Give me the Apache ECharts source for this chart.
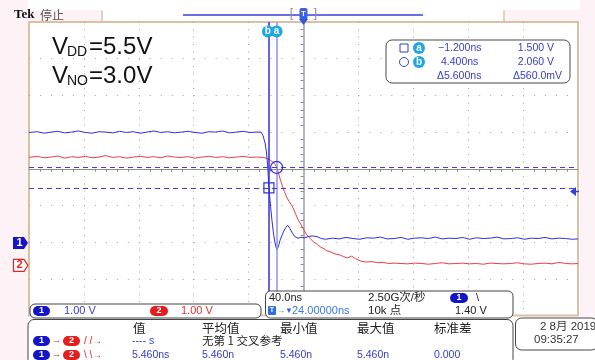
<!DOCTYPE html>
<html><head><meta charset="utf-8">
<script src="https://cdn.jsdelivr.net/npm/echarts/dist/echarts.min.js"></script>
<style>html,body{margin:0;padding:0;background:#fff}#c{width:595px;height:360px}</style>
</head><body><div id="c"></div>
<script>
// ---- scope settings ----
const timePerDiv = 40;     // ns / div
const horizPos = 24;       // ns at screen centre
const ch1Scale = 1.0, ch2Scale = 1.0;   // V / div
const ch1Offset = 2.02, ch2Offset = 2.63; // ground marker, div below centre
const trigLevel = 1.40;    // V (ch1)

// ---- waveform samples (ns, V) ----
const blueT = [-176,-170,-165,-160,-155,-150,-145,-140,-135,-130,-125,-120,-115,-110,-105,-100,-95,-90,-85,-80,-75,-70,-65,-60,-55,-50,-45,-40,-35,-30,-25,-20,-15,-10,
  -7,-5.5,-4,-3,-2,-1.2,0,1,2,3,4,4.8,5.8,7,9,11,12.5,14,16,18,20,22,25,28,31,34,37,40,
  45,50,55,60,65,70,75,80,85,90,95,100,105,110,115,120,125,130,135,140,145,150,155,160,165,170,175,180,185,190,195,200,205,210,215,220,224];
const blueV = [3.01,3.03,2.99,3.02,3.04,3.00,3.02,3.05,3.01,2.99,3.03,3.02,3.00,3.04,3.01,3.03,2.99,3.02,3.05,3.01,3.03,3.00,3.02,3.04,3.01,2.99,3.03,3.02,3.05,3.00,3.02,3.04,3.01,3.02,
  3.02,2.93,2.72,2.48,2.05,1.50,1.00,0.62,0.30,0.05,-0.12,-0.18,-0.08,0.08,0.27,0.42,0.48,0.40,0.26,0.16,0.13,0.15,0.14,0.18,0.19,0.17,0.12,0.10,
  0.13,0.11,0.15,0.12,0.10,0.14,0.13,0.16,0.11,0.12,0.15,0.10,0.13,0.14,0.12,0.16,0.11,0.13,0.12,0.15,0.10,0.14,0.12,0.13,0.16,0.11,0.12,0.14,0.10,0.13,0.12,0.15,0.11,0.13,0.12,0.10,0.11];
const redT = [-176,-170,-165,-160,-155,-150,-145,-140,-135,-130,-125,-120,-115,-110,-105,-100,-95,-90,-85,-80,-75,-70,-65,-60,-55,-50,-45,-40,-35,-30,-25,-20,-15,-10,
  -6,-3,0,2,3.5,4.4,5.5,7,8.5,10,11.7,13.5,15,16.5,18,20,22,24,26,28,31,34,36,39,41,44,47,50,53,56,59,62,66,70,74,78,82,86,90,
  95,100,105,110,115,120,125,130,135,140,145,150,155,160,165,170,175,180,185,190,195,200,205,210,215,220,224];
const redV = [2.94,2.97,2.93,2.95,2.98,2.92,2.96,2.94,2.97,2.93,2.95,2.99,2.94,2.96,2.92,2.95,2.97,2.94,2.96,2.93,2.98,2.95,2.94,2.96,2.92,2.95,2.97,2.94,2.96,2.93,2.95,2.97,2.94,2.95,
  2.94,2.92,2.86,2.80,2.74,2.68,2.55,2.35,2.18,2.02,1.86,1.74,1.66,1.56,1.42,1.25,1.12,0.98,0.85,0.76,0.65,0.57,0.51,0.45,0.40,0.36,0.31,0.29,0.24,0.20,0.25,0.18,0.11,0.09,0.10,0.07,0.08,0.05,0.06,
  0.05,0.04,0.06,0.05,0.03,0.05,0.07,0.04,0.05,0.06,0.04,0.05,0.03,0.06,0.05,0.04,0.05,0.07,0.04,0.03,0.05,0.06,0.04,0.08,0.05,0.04,0.05];

// ---- cursors ----
const cursorT = [-1.2, 4.4];     // a, b (ns)
const cursorV = [1.500, 2.060];  // a, b (V, ch1)

// ---- texts ----
const readRows = [['\u22121.200ns','1.500 V'],['4.400ns','2.060 V'],['\u03945.600ns','\u0394560.0mV']];
const measHeaders = ['值','平均值','最小值','最大值','标准差'];
const measRow2 = ['---- s','无第 1 交叉参考'];
const measRow3 = ['5.460ns','5.460n','5.460n','5.460n','0.000'];

const BLUE='#2e2ee0', RED='#f03c3c', TAN='#dcc0a4', PINK='#fdf3f6', TB='#3540cc', CY='#1ea6e6';
const UI='"Liberation Sans","Noto Sans CJK SC",sans-serif';
const CJK='"Noto Sans CJK SC",sans-serif';

const xDiv = t => (t - horizPos) / timePerDiv;
const ch1Data = blueT.map((t,i)=>[xDiv(t), blueV[i]/ch1Scale - ch1Offset]);
const ch2Data = redT.map((t,i)=>[xDiv(t), redV[i]/ch2Scale - ch2Offset]);

const chart = echarts.init(document.getElementById('c'));
const option = {
  animation:false,
  backgroundColor:'#ffffff',
  grid:{left:29, top:22, width:549, height:293.6, show:true, borderColor:TAN, borderWidth:2, backgroundColor:'#ffffff', containLabel:false},
  xAxis:{type:'value', min:-5, max:5, interval:1,
    axisLabel:{show:false}, axisTick:{show:false},
    axisLine:{show:true, onZero:true, lineStyle:{color:'#8c8c8c', width:1}},
    minorTick:{show:true, splitNumber:5, length:3, lineStyle:{color:'#8c8c8c'}},
    splitLine:{show:true, showMinLine:false, showMaxLine:false, lineStyle:{color:'#a0a0a0', width:1, type:[1,6.34]}}},
  yAxis:{type:'value', min:-4, max:4, interval:1,
    axisLabel:{show:false}, axisTick:{show:false},
    axisLine:{show:true, onZero:true, lineStyle:{color:'#b4b4c8', width:2}},
    minorTick:{show:true, splitNumber:5, length:3, lineStyle:{color:'#8c8c8c'}},
    splitLine:{show:true, showMinLine:false, showMaxLine:false, lineStyle:{color:'#a0a0a0', width:1, type:[1,9.98]}}},
  series:[
    {name:'CH2', type:'line', data:ch2Data, showSymbol:false, z:3, lineStyle:{color:RED, width:1}},
    {name:'CH1', type:'line', data:ch1Data, showSymbol:false, z:4, lineStyle:{color:BLUE, width:1}},
    {name:'cursors', type:'line', data:[], z:5, silent:true,
      markLine:{silent:true, symbol:['none','none'], label:{show:false}, animation:false,
        data:[
          {xAxis:xDiv(cursorT[0]), lineStyle:{color:'#3030dc', width:1.5, type:'solid'}},
          {xAxis:xDiv(cursorT[1]), lineStyle:{color:'#9090f2', width:1.5, type:'solid'}},
          {yAxis:cursorV[0]/ch1Scale - ch1Offset, lineStyle:{color:'#3c3cdc', width:1, type:[5,4]}},
          {yAxis:cursorV[1]/ch1Scale - ch1Offset, lineStyle:{color:'#3c3cdc', width:1, type:[5,4]}}
        ]},
      markPoint:{silent:true, label:{show:false}, animation:false,
        data:[
          {coord:[xDiv(cursorT[0]), cursorV[0]/ch1Scale - ch1Offset], symbol:'rect', symbolSize:10, itemStyle:{color:'rgba(0,0,0,0)', borderColor:'#3030d8', borderWidth:1.2}},
          {coord:[xDiv(cursorT[1]), cursorV[1]/ch1Scale - ch1Offset], symbol:'circle', symbolSize:12, itemStyle:{color:'rgba(0,0,0,0)', borderColor:'#3030d8', borderWidth:1.2}}
        ]}}
  ]
};
chart.setOption(option);

const px = (xd, yd) => chart.convertToPixel({gridIndex:0}, [xd, yd]);
const els = [];
function R(x,y,w,h,o){ o=o||{}; els.push({type:'rect', z:o.z||40, shape:{x:x,y:y,width:w,height:h,r:o.r||0}, style:{fill:o.fill||'none', stroke:o.stroke||null, lineWidth:o.lw||1}}); }
function L(x1,y1,x2,y2,c,w){ els.push({type:'line', z:41, shape:{x1:x1,y1:y1,x2:x2,y2:y2}, style:{stroke:c, lineWidth:w||1}}); }
function T(x,y,text,o){ o=o||{}; els.push({type:'text', z:o.z||45, x:x, y:y, style:{text:text, fill:o.c||'#222', font:o.f||('11px '+UI), align:o.a||'left', verticalAlign:'middle', textAlign:o.a||'left', textVerticalAlign:'middle'}}); }
function C(cx,cy,r,o){ els.push({type:'circle', z:o.z||42, shape:{cx:cx,cy:cy,r:r}, style:{fill:o.fill||'none', stroke:o.stroke||null, lineWidth:o.lw||1}}); }
function P(pts,o){ els.push({type:'polygon', z:o.z||42, shape:{points:pts}, style:{fill:o.fill||'none', stroke:o.stroke||null, lineWidth:o.lw||1}}); }
function pill(x,y,w,h,col,lab){ R(x,y,w,h,{r:h/2,fill:col,z:46}); T(x+w/2,y+h/2,lab,{c:'#fff',f:'bold 9px '+UI,a:'center',z:47}); }

// margins
R(0,0,28,360,{fill:PINK,z:1});
R(580,0,15,318,{fill:PINK,z:1});
R(0,10,102,11,{fill:PINK,z:1});
R(504,10,91,11,{fill:PINK,z:1});
L(102,10.5,102,21.5,TAN,1.5);
L(504,10.5,504,22,TAN,1.5);

// top record bar + centre marker
const cx0 = px(0,4)[0];
L(183,15,423,15,'#3d3de0',1.5);
T(cx0-12,14,'[',{c:'#8a8aa0',f:'12px '+UI,a:'center'});
T(cx0+12,14,']',{c:'#8a8aa0',f:'12px '+UI,a:'center'});
R(cx0-4,8,8,12,{r:2,fill:'#3b5fe0',z:46});
T(cx0,13.5,'T',{c:'#fff',f:'bold 8px '+UI,a:'center',z:47});
P([[cx0-4.5,19],[cx0+4.5,19],[cx0,25]],{fill:'#2f57d8',z:46});

// cursor labels at top
const xa = px(xDiv(cursorT[0]),0)[0], xb = px(xDiv(cursorT[1]),0)[0];
C(xa-1,31.5,6,{fill:CY,z:46}); T(xa-1,31.5,'b',{c:'#fff',f:'bold 10px '+UI,a:'center',z:47});
C(xb,31.5,6,{fill:CY,z:48}); T(xb,31.5,'a',{c:'#fff',f:'bold 10px '+UI,a:'center',z:49});

// channel ground markers
const y1 = px(-5,-ch1Offset)[1], y2 = px(-5,-ch2Offset)[1];
P([[13,y1-6],[24,y1-6],[28,y1],[24,y1+6],[13,y1+6]],{fill:'#1414c8',z:46});
T(19.5,y1,'1',{c:'#fff',f:'bold 11px '+UI,a:'center',z:47});
P([[13.5,y2-6],[24,y2-6],[28,y2],[24,y2+6],[13.5,y2+6]],{fill:'#fff',stroke:'#e82020',lw:1.2,z:46});
T(19.5,y2,'2',{c:'#e82020',f:'bold 11px '+UI,a:'center',z:47});
// trigger level marker
const yt = px(5,trigLevel/ch1Scale - ch1Offset)[1];
P([[570,yt],[576,yt-4.5],[576,yt+4.5]],{fill:'#2f3fe0',z:46});
L(576,yt,579,yt,'#2f3fe0',1.5);

// V labels
const BIG='24px "Liberation Sans",sans-serif', SUB='14px "Liberation Sans",sans-serif';
T(52,47.5,'V',{c:'#111',f:BIG}); T(67,52.5,'DD',{c:'#111',f:SUB}); T(89,47.5,'=5.5V',{c:'#111',f:BIG});
T(52,76,'V',{c:'#111',f:BIG}); T(67,81,'NO',{c:'#111',f:SUB}); T(89,76,'=3.0V',{c:'#111',f:BIG});

// cursor readout
R(386,40,184,43,{r:6,fill:'#fff',stroke:'#4a4a4a',z:43});
R(400,44,8,8,{stroke:TB,lw:1,z:46});
C(419,48,6,{fill:CY,z:46}); T(419,48,'a',{c:'#fff',f:'bold 10px '+UI,a:'center',z:47});
C(404,62,4.5,{stroke:TB,lw:1,z:46});
C(419,62,6,{fill:CY,z:46}); T(419,62,'b',{c:'#fff',f:'bold 10px '+UI,a:'center',z:47});
const rx=[[438,554],[441,554],[437,562]], ry=[48,62,76];
readRows.forEach((r,i)=>{ T(rx[i][0],ry[i],r[0],{c:TB,f:'10.5px '+UI}); T(rx[i][1],ry[i],r[1],{c:TB,f:'10.5px '+UI,a:'right'}); });

// bottom panels
R(30,304,231,14,{r:5,fill:'#fff',stroke:'#444',z:43});
R(265.5,291,247.5,27,{r:5,fill:'#fff',stroke:'#444',z:43});
R(28,319.5,485,46,{r:6,fill:'#fff',stroke:'#444',z:43});
R(515.5,318,82,32,{r:6,fill:'#fff',stroke:'#444',z:43});

pill(33,306,17,10,'#1414c8','1'); T(64,311,'1.00 V',{c:TB});
pill(150,306,18,10,'#e41e1e','2'); T(181,311,'1.00 V',{c:'#e83030'});

T(269,298,'40.0ns',{c:'#222'});
T(368,298,'2.50G次/秒',{c:'#222',f:'11.5px '+UI});
pill(450,293,18,10,'#1414c8','1'); T(476,298,'\\',{c:'#222',f:'11px '+UI});
R(268,306,8,9,{r:1,fill:'#2f6fe0',z:46}); T(272,310.5,'T',{c:'#fff',f:'bold 7px '+UI,a:'center',z:47});
T(277,310.5,'→▼',{c:'#2f6fe0',f:'8px '+UI});
T(292,311,'24.00000ns',{c:'#3a7ae0'});
T(368,311,'10k 点',{c:'#222',f:'11.5px '+UI});
T(455,311,'1.40 V',{c:'#222'});

const hx=[133,202,280,357,434];
measHeaders.forEach((h,i)=>T(hx[i],328,h,{c:'#222',f:'12.5px '+CJK}));
pill(33,336,17,10,'#1414c8','1'); T(52,341,'→',{c:'#e41e1e',f:'9px '+UI}); pill(63,336,17,10,'#e41e1e','2'); T(84,341,'/ /→',{c:'#e41e1e',f:'10px '+UI});
T(132,341,measRow2[0],{c:TB,f:'10.5px '+UI}); T(202,341,measRow2[1],{c:'#222',f:'11.5px '+CJK});
pill(33,350,17,10,'#1414c8','1'); T(52,355,'→',{c:'#e41e1e',f:'9px '+UI}); pill(63,350,17,10,'#e41e1e','2'); T(84,355,'\\ \\→',{c:'#e41e1e',f:'10px '+UI});
measRow3.forEach((v,i)=>T(hx[i]-(i===0?1:0),355,v,{c:TB,f:'10.5px '+UI}));

T(540,327,'2 8月 2019',{c:'#333',f:'11.5px '+UI});
T(534,339.5,'09:35:27',{c:'#333',f:'11.5px '+UI});

// Tek label
T(14,15,'Tek',{c:'#111',f:'bold 13px "Liberation Serif",serif'});
T(40,15,'停止',{c:'#555',f:'12px '+CJK});

chart.setOption({graphic:{elements:els}});
</script></body></html>
